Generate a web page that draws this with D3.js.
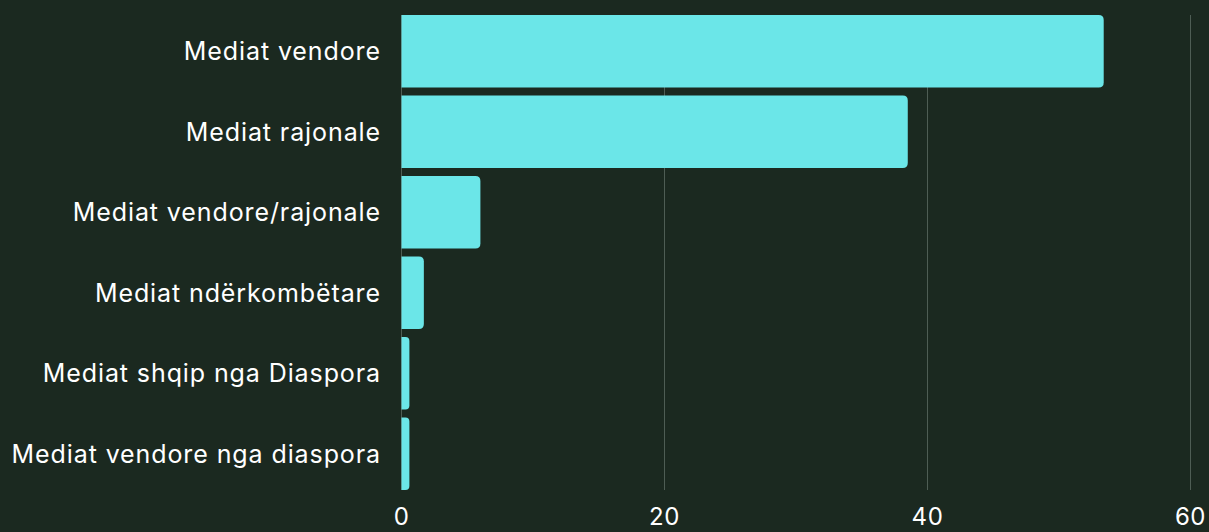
<html>
<head>
<meta charset="utf-8">
<style>
  body { margin: 0; background: #1b2920; }
  svg { display: block; }
  text { font-family: Inter, "Noto Sans", sans-serif; fill: #ffffff; }
</style>
<script src="https://d3js.org/d3.v7.min.js"></script>
</head>
<body>
<svg id="chart" width="1209" height="532"></svg>
<script>
// data
var categories = ['Mediat vendore', 'Mediat rajonale', 'Mediat vendore/rajonale',
                  'Mediat ndërkombëtare', 'Mediat shqip nga Diaspora', 'Mediat vendore nga diaspora'];
var values = [53.4, 38.5, 6.0, 1.7, 0.6, 0.6];
var xTicks = [0, 20, 40, 60];

var width = 1209, height = 532;
var svg = d3.select('#chart');

svg.append('rect').attr('width', width).attr('height', height).attr('fill', '#1b2920');

var x = d3.scaleLinear().domain([0, 60]).range([401.5, 1190.5]);
var y = d3.scaleBand().domain(categories).range([11, 494]).paddingInner(0.1).paddingOuter(0.05);

// grid lines
svg.append('g').selectAll('line')
   .data(xTicks)
   .enter().append('line')
   .attr('x1', function(d) { return x(d); })
   .attr('x2', function(d) { return x(d); })
   .attr('y1', 15)
   .attr('y2', 490)
   .attr('stroke', '#4e5d54')
   .attr('stroke-width', 1);

// bars, rounded on the right end only
var r = 5;
function barPath(d, i) {
    var x0 = x(0), x1 = x(d), y0 = y(categories[i]), h = y.bandwidth();
    var rr = Math.min(r, (x1 - x0) / 2);
    return 'M' + x0 + ',' + y0 +
           'H' + (x1 - rr) +
           'Q' + x1 + ',' + y0 + ' ' + x1 + ',' + (y0 + rr) +
           'V' + (y0 + h - rr) +
           'Q' + x1 + ',' + (y0 + h) + ' ' + (x1 - rr) + ',' + (y0 + h) +
           'H' + x0 + 'Z';
}
svg.append('g').selectAll('path')
   .data(values)
   .enter().append('path')
   .attr('d', barPath)
   .attr('fill', '#6be6e8');

// category labels
svg.append('g').selectAll('text')
   .data(categories)
   .enter().append('text')
   .attr('x', 381)
   .attr('y', function(d) { return y(d) + y.bandwidth() / 2; })
   .attr('dy', '0.36em')
   .attr('text-anchor', 'end')
   .style('font-size', '25px')
   .style('letter-spacing', '0.9px')
   .text(function(d) { return d; });

// x tick labels
svg.append('g').selectAll('text')
   .data(xTicks)
   .enter().append('text')
   .attr('x', function(d) { return x(d); })
   .attr('y', 525)
   .attr('text-anchor', 'middle')
   .style('font-size', '24px')
   .style('letter-spacing', '0.6px')
   .text(function(d) { return d; });
</script>
</body>
</html>
